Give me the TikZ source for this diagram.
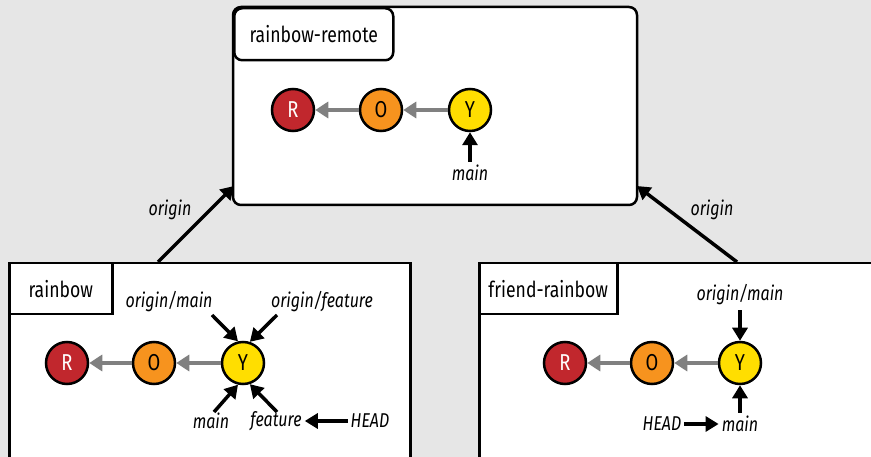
\documentclass[tikz,border=0pt]{standalone}
\usepackage{fontspec}
\setmainfont{Fira Sans}[FakeStretch=0.8]
\usetikzlibrary{arrows.meta}
\definecolor{bg}{HTML}{E6E6E6}
\definecolor{cR}{HTML}{C1272D}
\definecolor{cO}{HTML}{F7931E}
\definecolor{cY}{HTML}{FFDE00}
\definecolor{gr}{HTML}{808080}
\begin{document}
\begin{tikzpicture}[x=1pt,y=-1pt,
  frame/.style={draw, fill=white, line width=2.5pt, inner sep=0pt, font=\fontsize{22}{24}\selectfont},
  tag/.style={frame, anchor=north west},
  commit/.style={circle, draw, line width=2.5pt, minimum size=42pt, inner sep=0pt, font=\fontsize{23}{24}\selectfont},
  lbl/.style={inner sep=3pt, font=\fontsize{20}{22}\selectfont\itshape},
  barr/.style={draw=black, line width=3.5pt, -{Triangle[length=13pt,width=15pt]}},
  garr/.style={draw=gr, line width=3.5pt, -{Triangle[length=13pt,width=16pt]}}
]
\useasboundingbox (0,0) rectangle (871,457);
\clip (0,0) rectangle (871,457);
\fill[bg] (0,0) rectangle (871,457);

% top box
\node[frame, rounded corners=8pt, minimum width=404pt, minimum height=198pt] (tbox) at (435,106) {};
\node[tag, rounded corners=8pt, minimum width=159pt, minimum height=52pt] (tlab) at (233,7) {rainbow-remote};
\node[commit, fill=cR, text=white] (tR) at (293,110) {R};
\node[commit, fill=cO] (tO) at (381,110) {O};
\node[commit, fill=cY] (tY) at (470,110) {Y};
\draw[garr] (tY) -- (tO);
\draw[garr] (tO) -- (tR);
\node[lbl] (tmain) at (470,173) {main};
\draw[barr] (tmain) -- (tY);

% left box
\node[tag, minimum width=401pt, minimum height=240pt] (lbox) at (8,262) {};
\node[tag, minimum width=103pt, minimum height=51pt] (llab) at (8,262) {rainbow};
\node[commit, fill=cR, text=white] (lR) at (67,363) {R};
\node[commit, fill=cO] (lO) at (154,363) {O};
\node[commit, fill=cY] (lY) at (243,363) {Y};
\draw[garr] (lY) -- (lO);
\draw[garr] (lO) -- (lR);
\node[lbl] (lom) at (169,302) {origin/main};
\node[lbl] (lof) at (322,302) {origin/feature};
\node[lbl] (lmain) at (211,421) {main};
\node[lbl] (lfeat) at (276,421) {feature};
\node[lbl] (lhead) at (370,421) {HEAD};
\coordinate (lomA) at (212,315);
\coordinate (lofA) at (277,315);
\coordinate (lmA) at (214,412);
\coordinate (lfA) at (277,412);
\draw[barr] (lomA) -- (lY.103);
\draw[barr] (lofA) -- (lY.72);
\draw[barr] (lmA) -- (lY.257);
\draw[barr] (lfA) -- (lY.288);
\draw[barr] (lhead) -- (lfeat);

% right box
\node[tag, minimum width=420pt, minimum height=240pt] (rbox) at (478,262) {};
\node[tag, minimum width=138pt, minimum height=51pt] (rlab) at (478,262) {friend-rainbow};
\node[commit, fill=cR, text=white] (rR) at (565,363) {R};
\node[commit, fill=cO] (rO) at (652,363) {O};
\node[commit, fill=cY] (rY) at (740,363) {Y};
\draw[garr] (rY) -- (rO);
\draw[garr] (rO) -- (rR);
\node[lbl] (rom) at (740,295) {origin/main};
\node[lbl] (rmain) at (740,424) {main};
\node[lbl] (rhead) at (662,424) {HEAD};
\draw[barr, shorten <=2pt] (rom) -- (rY);
\draw[barr] (rmain) -- (rY);
\draw[barr] (rhead) -- (rmain);

% origin links
\coordinate (loA) at (158,262);
\coordinate (loB) at (234,186);
\coordinate (roA) at (737,262);
\coordinate (roB) at (637,186);
\draw[barr] (loA) -- (loB);
\draw[barr] (roA) -- (roB);
\node[lbl] (lorig) at (170,210) {origin};
\node[lbl] (rorig) at (712,210) {origin};
\end{tikzpicture}
\end{document}
